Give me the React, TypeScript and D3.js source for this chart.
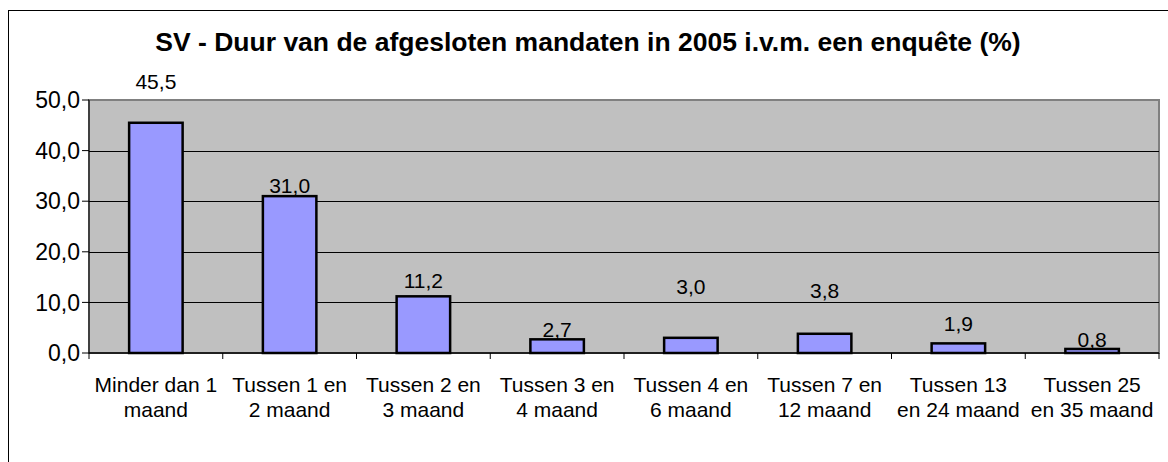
import * as d3 from "d3"

const categories = [
  ["Minder dan 1", "maand"],
  ["Tussen 1 en", "2 maand"],
  ["Tussen 2 en", "3 maand"],
  ["Tussen 3 en", "4 maand"],
  ["Tussen 4 en", "6 maand"],
  ["Tussen 7 en", "12 maand"],
  ["Tussen 13", "en 24 maand"],
  ["Tussen 25", "en 35 maand"],
]
const values = [45.5, 31.0, 11.2, 2.7, 3.0, 3.8, 1.9, 0.8]
const yTicks = [0, 10, 20, 30, 40, 50]
// gap in px between bar top and label baseline, as Excel placed them
const labelGaps = [34, 3, 8, 2, 44, 36, 12, 2]

const title = "SV - Duur van de afgesloten mandaten in 2005 i.v.m. een enquête (%)"

const font = "'Liberation Sans', Arial, sans-serif"

function App() {
  const width = 1168
  const height = 462
  const plot = { left: 89, right: 1159, top: 100, bottom: 353 }

  const keys = categories.map((c) => c.join(" "))
  const x = d3.scaleBand().domain(keys).range([plot.left, plot.right]).paddingInner(0.6).paddingOuter(0.3)
  const cat = d3.scaleBand().domain(keys).range([plot.left, plot.right]).padding(0)
  const y = d3.scaleLinear().domain([0, 50]).range([plot.bottom, plot.top])
  const fmt = (v: number) => v.toFixed(1).replace(".", ",")

  return (
    <svg width={width} height={height} style={{ position: "absolute", left: 0, top: 0, background: "#fff" }} fontFamily={font}>
      <rect x={8.5} y={10.5} width={1300} height={600} fill="#fff" stroke="#000" strokeWidth={1} />
      <text x={588} y={51} textAnchor="middle" fontSize={26.5} fontWeight="bold">{title}</text>

      <rect x={plot.left} y={plot.top} width={plot.right - plot.left} height={plot.bottom - plot.top} fill="#C0C0C0" stroke="#808080" strokeWidth={2} />
      {yTicks.filter((t) => t > 0 && t < 50).map((t) => (
        <line key={t} x1={plot.left} x2={plot.right} y1={Math.round(y(t)) + 0.5} y2={Math.round(y(t)) + 0.5} stroke="#000" strokeWidth={1} />
      ))}

      {keys.map((k, i) => {
        const v = values[i]
        const bx = x(k)!
        const top = y(v)
        return (
          <g key={k}>
            <rect x={bx} y={top} width={x.bandwidth()} height={plot.bottom - top} fill="#9999FF" stroke="#000" strokeWidth={2.5} />
            <text x={bx + x.bandwidth() / 2} y={top - labelGaps[i]} textAnchor="middle" fontSize={21}>{fmt(v)}</text>
          </g>
        )
      })}

      {/* axes */}
      <line x1={plot.left} x2={plot.left} y1={plot.top} y2={plot.bottom} stroke="#000" strokeWidth={1} />
      <line x1={plot.left} x2={plot.right} y1={plot.bottom} y2={plot.bottom} stroke="#000" strokeWidth={1.5} />
      {yTicks.map((t) => (
        <g key={t}>
          <line x1={plot.left - 7} x2={plot.left} y1={y(t)} y2={y(t)} stroke="#000" strokeWidth={1} />
          <text x={80} y={y(t)} dy="0.36em" textAnchor="end" fontSize={23}>{fmt(t)}</text>
        </g>
      ))}
      {keys.concat(["end"]).map((k, i) => {
        const tx = plot.left + i * cat.step()
        return <line key={"t" + i} x1={tx} x2={tx} y1={plot.bottom} y2={plot.bottom + 6} stroke="#000" strokeWidth={1} />
      })}
      {categories.map((c, i) => {
        const cx = cat(keys[i])! + cat.bandwidth() / 2
        return (
          <text key={"l" + i} x={cx} textAnchor="middle" fontSize={21}>
            <tspan x={cx} y={392}>{c[0]}</tspan>
            <tspan x={cx} y={417}>{c[1]}</tspan>
          </text>
        )
      })}
    </svg>
  )
}

export default App
